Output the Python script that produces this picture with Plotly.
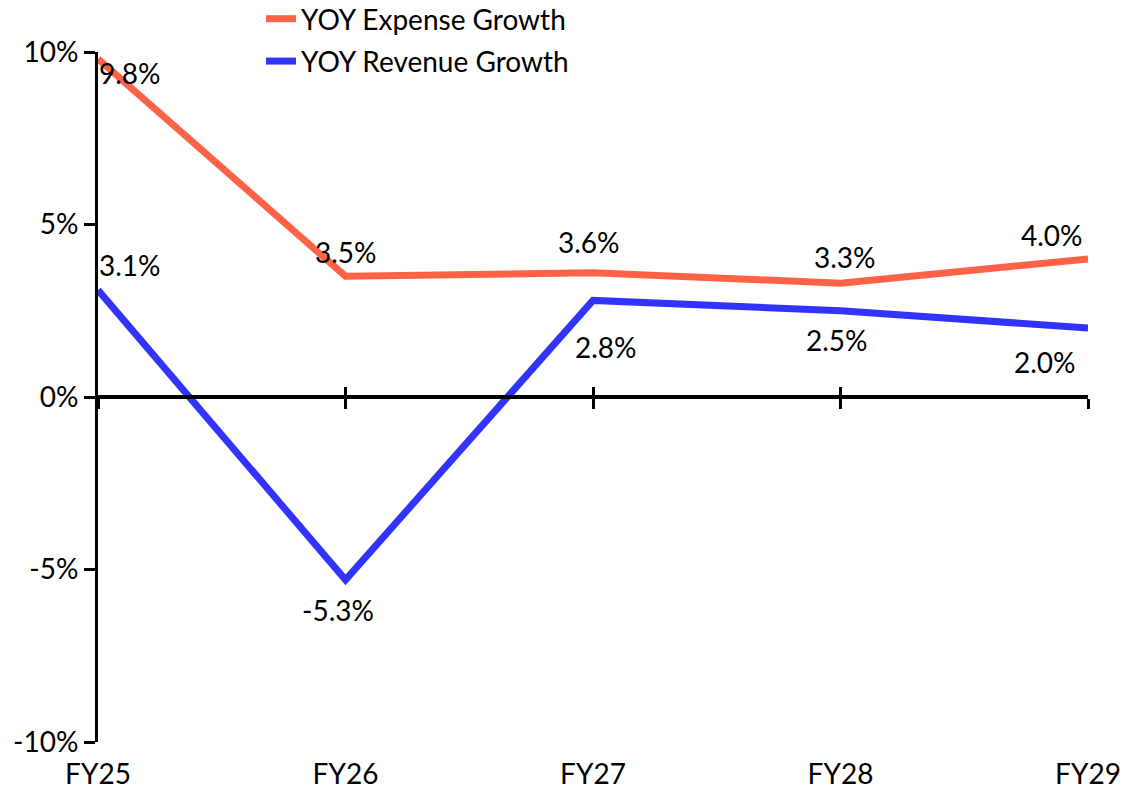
import plotly.graph_objects as go

categories = ["FY25", "FY26", "FY27", "FY28", "FY29"]
expense_growth = [9.8, 3.5, 3.6, 3.3, 4.0]
revenue_growth = [3.1, -5.3, 2.8, 2.5, 2.0]
y_ticks = [-10, -5, 0, 5, 10]
y_tick_labels = ["-10%", "-5%", "0%", "5%", "10%"]

# label offsets (pixels) — styling only
expense_label_offsets = [(32, -14), (0, 24), (-4, 31), (4, 26), (-36, 24)]
revenue_label_offsets = [(32, 25), (-8, -30), (13, -47), (-4, -29), (-43, -34)]

FONT = "Lato"
FS = 28
EXP_COLOR = "#FF6347"
REV_COLOR = "#3333FF"

# page body has an 8px default margin
W, H = 1140, 782
ML, MR, MT, MB = 90, 60, 44, 48
PH = H - MT - MB
PW = W - ML - MR

fig = go.Figure()
fig.add_trace(go.Scatter(x=categories, y=expense_growth, mode="lines",
                         name="YOY Expense Growth", legendgroup="exp",
                         line=dict(color=EXP_COLOR, width=7)))
fig.add_trace(go.Scatter(x=categories, y=revenue_growth, mode="lines",
                         name="YOY Revenue Growth", legendgroup="rev",
                         line=dict(color=REV_COLOR, width=7)))

annotations = []
for vals, offs in ((expense_growth, expense_label_offsets), (revenue_growth, revenue_label_offsets)):
    for c, v, (dx, dy) in zip(categories, vals, offs):
        annotations.append(dict(x=c, y=v, xref="x", yref="y", text=f"{v:.1f}%",
                                showarrow=False, xshift=dx, yshift=dy,
                                xanchor="center", yanchor="middle",
                                font=dict(family=FONT, size=FS, color="black")))

axis_common = dict(range=[0, len(categories) - 1], showgrid=False, zeroline=False)

fig.update_layout(
    width=W, height=H,
    margin=dict(l=ML, r=MR, t=MT, b=MB, autoexpand=False),
    paper_bgcolor="white", plot_bgcolor="white",
    font=dict(family=FONT, size=FS, color="black"),
    showlegend=True,
    legend=dict(x=(253 - ML) / PW, xref="paper",
                y=1 + (MT + 14) / PH, yref="paper",
                xanchor="left", yanchor="top",
                font=dict(family=FONT, size=FS, color="black"),
                bgcolor="rgba(0,0,0,0)", tracegroupgap=3,
                itemwidth=30),
    xaxis=dict(type="category", showline=False, ticks="outside", ticklen=7,
               tickcolor="rgba(0,0,0,0)", showgrid=False, zeroline=False,
               range=[0, len(categories) - 1],
               tickfont=dict(family=FONT, size=FS, color="black")),
    xaxis2=dict(overlaying="x", anchor="free", position=0.5, side="bottom",
                showline=True, linecolor="black", linewidth=4,
                ticks="outside", ticklen=10, tickwidth=3, tickcolor="black",
                tickvals=list(range(len(categories))), showticklabels=False,
                **axis_common),
    xaxis3=dict(overlaying="x", anchor="free", position=0.5, side="bottom",
                showline=False, ticks="inside", ticklen=10, tickwidth=3, tickcolor="black",
                tickvals=list(range(len(categories))), showticklabels=False,
                **axis_common),
    yaxis=dict(range=[-10, 10], tickvals=y_ticks, ticktext=y_tick_labels,
               showline=True, linecolor="black", linewidth=3,
               ticks="outside", ticklen=11, tickwidth=3, tickcolor="black",
               showgrid=False, zeroline=False,
               tickfont=dict(family=FONT, size=FS, color="black")),
    annotations=annotations,
)

# invisible traces to activate overlay axes
fig.add_trace(go.Scatter(x=[0], y=[0], xaxis="x2", mode="markers",
                         marker=dict(opacity=0), showlegend=False, hoverinfo="skip"))
fig.add_trace(go.Scatter(x=[0], y=[0], xaxis="x3", mode="markers",
                         marker=dict(opacity=0), showlegend=False, hoverinfo="skip"))

fig.write_html("out.html")
